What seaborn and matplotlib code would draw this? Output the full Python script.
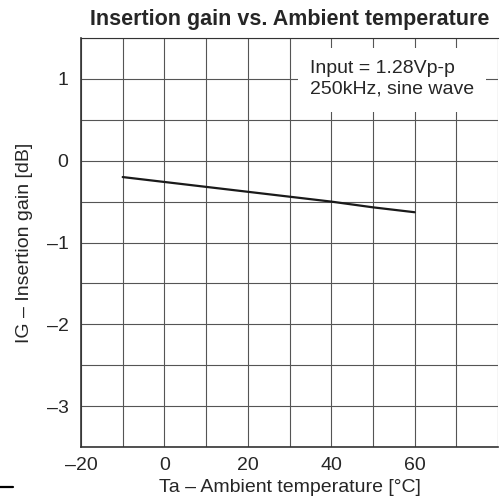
import matplotlib
matplotlib.use("Agg")
import matplotlib.pyplot as plt
from matplotlib.patches import Rectangle
from matplotlib.lines import Line2D
import seaborn as sns
import pandas as pd

temperature = [-10, 0, 10, 20, 30, 40, 50, 60]
gain_db = [-0.20, -0.26, -0.32, -0.38, -0.44, -0.50, -0.57, -0.63]
x_ticks = [-20, 0, 20, 40, 60]
y_ticks = [-3, -2, -1, 0, 1]

sns.set_theme(style="white")
plt.rcParams['font.family'] = ['Liberation Sans', 'DejaVu Sans']

fig = plt.figure(figsize=(5.0, 4.97), dpi=100)
ax = fig.add_axes([81/500, 50/497, 417/500, 409/497])

df = pd.DataFrame({"T": temperature, "G": gain_db})
sns.lineplot(data=df, x="T", y="G", ax=ax, color="#1a1a1a", linewidth=1.6)

ax.set_xlim(-20, 80)
ax.set_ylim(-3.5, 1.5)
ax.set_xticks(x_ticks)
ax.set_xticks(range(-20, 81, 10), minor=True)
ax.set_yticks(y_ticks)
ax.set_yticks([v / 2 for v in range(-7, 4)], minor=True)
ax.set_xticklabels([f"{t}".replace("-", "\u2013") for t in x_ticks], fontsize=14)
ax.set_yticklabels([f"{t}".replace("-", "\u2013") for t in y_ticks], fontsize=14)
ax.grid(True, which="both", color="#555555", linewidth=0.8)
ax.tick_params(axis="x", which="both", length=0, pad=7)
ax.tick_params(axis="y", which="both", length=0, pad=9)

for s in ["right"]:
    ax.spines[s].set_visible(False)
for s in ["left", "bottom", "top"]:
    ax.spines[s].set_color("#333333")
    ax.spines[s].set_linewidth(1.2)
ax.spines["top"].set_linewidth(0.8)

ax.set_xlabel("Ta \u2013 Ambient temperature [\u00b0C]", fontsize=14, labelpad=4)
ax.set_ylabel("IG \u2013 Insertion gain [dB]", fontsize=14, labelpad=10)
fig.text(290/500, 1 - 19/497, "Insertion gain vs. Ambient temperature", fontsize=15.5,
         fontweight="bold", ha="center", va="center")

ax.add_patch(Rectangle((32.1, 0.59), 45.0, 0.79, facecolor="white",
                       edgecolor="none", zorder=4))
ax.text(34.9, 1.0, "Input = 1.28Vp-p\n250kHz, sine wave", fontsize=14,
        ha="left", va="center", linespacing=1.3, zorder=5)

fig.add_artist(Line2D([0.0, 13/500], [1 - 487/497, 1 - 487/497],
                      color="black", linewidth=1.6))

fig.savefig("out.png", dpi=100)
